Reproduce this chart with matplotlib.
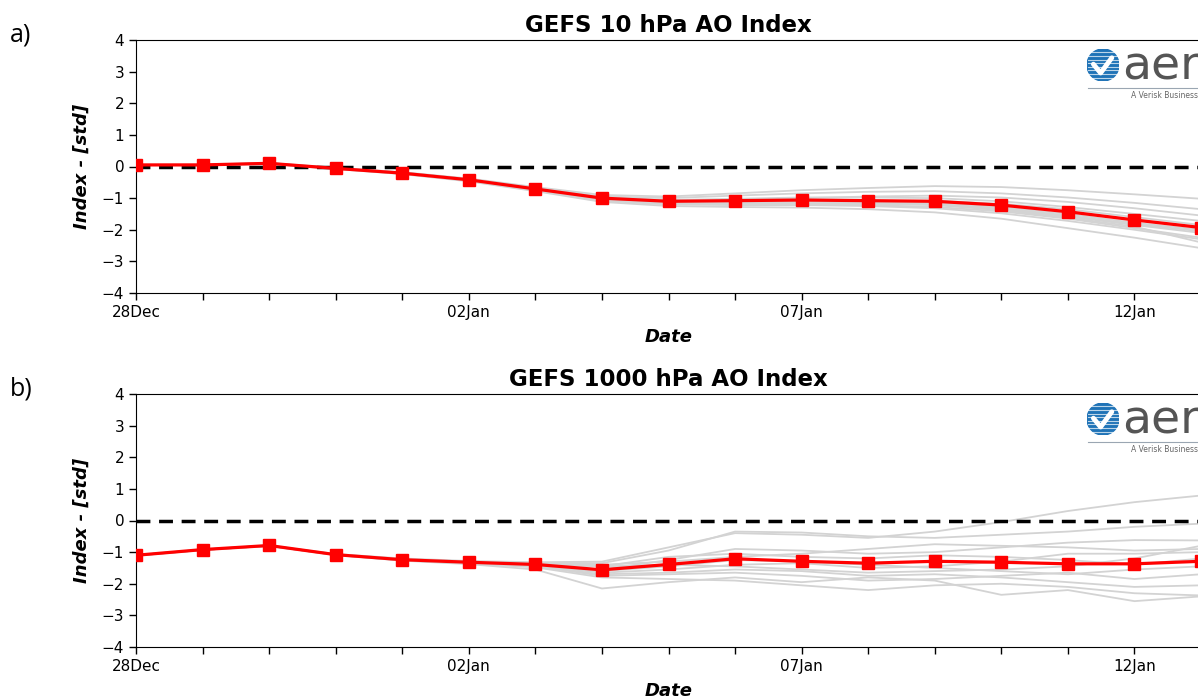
import numpy as np
import pandas as pd
import matplotlib
matplotlib.use('Agg')
import matplotlib.pyplot as plt
import matplotlib.dates as mdates
from matplotlib.patches import Circle

plt.rcParams['font.family'] = ['DejaVu Sans']

dates = pd.date_range('2021-12-28', periods=17, freq='D')

# ensemble mean (red)
mean_10 = [0.05, 0.05, 0.10, -0.06, -0.21, -0.42, -0.71, -1.00, -1.10, -1.08,
           -1.06, -1.08, -1.10, -1.22, -1.43, -1.69, -1.93]
mean_1000 = [-1.10, -0.92, -0.79, -1.08, -1.24, -1.32, -1.39, -1.56, -1.39, -1.21,
             -1.29, -1.35, -1.29, -1.32, -1.37, -1.37, -1.29]

# ensemble members (grey)
members_10 = [
    [0.05, 0.06, 0.11, -0.04, -0.18, -0.38, -0.65, -0.90, -0.95, -0.85, -0.75, -0.68, -0.62, -0.65, -0.75, -0.88, -1.02],
    [0.05, 0.05, 0.10, -0.05, -0.20, -0.40, -0.68, -0.95, -1.00, -0.92, -0.85, -0.80, -0.78, -0.85, -0.98, -1.15, -1.35],
    [0.05, 0.05, 0.09, -0.07, -0.22, -0.44, -0.74, -1.05, -1.15, -1.15, -1.12, -1.10, -1.08, -1.18, -1.35, -1.60, -1.85],
    [0.05, 0.04, 0.09, -0.07, -0.23, -0.45, -0.76, -1.08, -1.20, -1.22, -1.22, -1.25, -1.32, -1.48, -1.72, -2.00, -2.30],
    [0.05, 0.05, 0.10, -0.06, -0.21, -0.43, -0.73, -1.03, -1.13, -1.12, -1.10, -1.15, -1.20, -1.35, -1.58, -1.85, -2.10],
    [0.05, 0.04, 0.08, -0.08, -0.24, -0.47, -0.78, -1.12, -1.25, -1.28, -1.30, -1.35, -1.45, -1.65, -1.95, -2.25, -2.58],
    [0.05, 0.05, 0.10, -0.05, -0.19, -0.40, -0.69, -0.98, -1.06, -1.02, -0.98, -0.98, -1.00, -1.10, -1.28, -1.50, -1.72],
    [0.05, 0.05, 0.10, -0.06, -0.21, -0.42, -0.72, -1.02, -1.12, -1.10, -1.08, -1.12, -1.18, -1.32, -1.55, -1.82, -2.05],
    [0.05, 0.05, 0.11, -0.05, -0.20, -0.41, -0.70, -0.99, -1.08, -1.05, -1.00, -0.95, -0.92, -0.98, -1.12, -1.32, -1.55],
    [0.05, 0.04, 0.09, -0.07, -0.22, -0.44, -0.75, -1.06, -1.18, -1.18, -1.18, -1.22, -1.28, -1.42, -1.65, -1.95, -2.25],
    [0.05, 0.05, 0.10, -0.06, -0.21, -0.43, -0.72, -1.01, -1.10, -1.09, -1.08, -1.10, -1.14, -1.28, -1.50, -1.78, -2.00],
    [0.05, 0.05, 0.10, -0.06, -0.22, -0.43, -0.73, -1.04, -1.15, -1.16, -1.16, -1.18, -1.22, -1.38, -1.62, -1.90, -2.40],
]
members_1000 = [
    [-1.10, -0.92, -0.80, -1.06, -1.20, -1.28, -1.32, -1.30, -0.85, -0.40, -0.45, -0.55, -0.35, -0.05, 0.30, 0.58, 0.79],
    [-1.10, -0.92, -0.79, -1.07, -1.22, -1.30, -1.34, -1.35, -0.95, -0.35, -0.38, -0.50, -0.55, -0.45, -0.35, -0.20, -0.10],
    [-1.11, -0.93, -0.80, -1.09, -1.26, -1.36, -1.48, -1.80, -1.85, -1.90, -2.05, -2.20, -2.05, -2.00, -2.10, -2.30, -2.37],
    [-1.11, -0.93, -0.80, -1.09, -1.27, -1.38, -1.55, -2.15, -1.95, -1.80, -1.95, -1.80, -1.90, -2.35, -2.20, -2.55, -2.40],
    [-1.10, -0.93, -0.80, -1.08, -1.24, -1.33, -1.40, -1.55, -1.25, -0.90, -0.95, -1.05, -1.00, -0.85, -0.70, -0.62, -0.63],
    [-1.10, -0.92, -0.79, -1.08, -1.24, -1.31, -1.37, -1.45, -1.40, -1.45, -1.55, -1.65, -1.60, -1.55, -1.45, -1.20, -0.80],
    [-1.11, -0.93, -0.80, -1.09, -1.25, -1.34, -1.45, -1.70, -1.65, -1.55, -1.60, -1.75, -1.70, -1.80, -1.95, -2.10, -2.05],
    [-1.10, -0.92, -0.79, -1.08, -1.23, -1.31, -1.38, -1.45, -1.15, -1.05, -1.15, -1.20, -1.10, -1.15, -1.25, -1.40, -1.20],
    [-1.10, -0.92, -0.79, -1.08, -1.25, -1.34, -1.42, -1.65, -1.55, -1.40, -1.35, -1.50, -1.45, -1.30, -1.05, -1.05, -1.00],
    [-1.11, -0.93, -0.80, -1.09, -1.26, -1.35, -1.44, -1.75, -1.70, -1.65, -1.75, -1.90, -1.85, -1.75, -1.65, -1.85, -1.70],
    [-1.10, -0.92, -0.79, -1.08, -1.24, -1.33, -1.41, -1.60, -1.45, -1.25, -1.30, -1.40, -1.50, -1.60, -1.70, -1.55, -1.45],
    [-1.10, -0.93, -0.80, -1.08, -1.24, -1.32, -1.36, -1.40, -1.30, -1.15, -1.05, -0.90, -0.75, -0.80, -0.85, -0.95, -0.90],
]

titles = ['GEFS 10 hPa AO Index', 'GEFS 1000 hPa AO Index']
panel_labels = ['a)', 'b)']

fig = plt.figure(figsize=(11.98, 7.0), dpi=100)
W, H = 1198, 700


def fx(px):
    return px / W


def fy(py):
    return 1 - py / H


def draw_logo(top):
    # globe + "aer" + line + tagline, pixel positions from the top of the panel
    cx, cy, r = 1103, top + 25, 16
    ax_l = fig.add_axes([fx(cx - r), fy(cy + r), fx(2 * r), 2 * r / H])
    ax_l.set_xlim(-1, 1)
    ax_l.set_ylim(-1, 1)
    ax_l.axis('off')
    ax_l.add_patch(Circle((0, 0), 1, color='#1f73b7'))
    for yy in np.linspace(-0.8, 0.8, 8):
        ax_l.plot([-0.95, 0.95], [yy, yy], color='white', lw=0.8, alpha=0.7)
    ax_l.plot([-0.6, -0.15, 0.55], [0.05, -0.5, 0.45], color='white', lw=3.5,
              solid_capstyle='round')
    fig.text(fx(1122), fy(cy + 2), 'aer', fontsize=34, color='#555555',
             va='center', ha='left', family='DejaVu Sans')
    fig.add_artist(plt.Line2D([fx(1088), fx(1198)], [fy(top + 48), fy(top + 48)],
                              color='#9aa6b2', lw=0.8))
    fig.text(fx(1131), fy(top + 55), 'A Verisk Business', fontsize=5.5,
             color='#666666', va='center', ha='left')


tops = [40, 394]
for i, (mean, members) in enumerate([(mean_10, members_10), (mean_1000, members_1000)]):
    top = tops[i]
    ax = fig.add_axes([fx(136), fy(top + 253), fx(1201 - 136), 253 / H])
    for m in members:
        ax.plot(dates, m, color='#d3d3d3', lw=1.3, zorder=1)
    ax.axhline(0, color='black', lw=2.5, ls=(0, (4, 2.5)), zorder=2)
    ax.plot(dates, mean, color='#ff0000', lw=2.3, marker='s', ms=9,
            mec='#ff0000', zorder=3, clip_on=True)
    ax.set_xlim(dates[0], dates[-1])
    ax.set_ylim(-4, 4)
    ax.set_yticks(range(-4, 5))
    ax.xaxis.set_major_locator(mdates.DayLocator(bymonthday=[28, 2, 7, 12]))
    ax.xaxis.set_major_formatter(mdates.DateFormatter('%d%b'))
    ax.xaxis.set_minor_locator(mdates.DayLocator())
    ax.tick_params(axis='both', which='both', labelsize=11, length=5, width=1)
    ax.spines['right'].set_visible(False)
    ax.set_title(titles[i], fontsize=16.5, fontweight='bold', pad=6)
    ax.set_xlabel('Date', fontsize=13, fontweight='bold', style='italic', labelpad=6)
    ax.set_ylabel('Index - [std]', fontsize=13, fontweight='bold', style='italic',
                  labelpad=8)
    fig.text(fx(10), fy(top - 5), panel_labels[i], fontsize=18, va='center',
             ha='left', family='Open Sans')
    draw_logo(top)

plt.savefig('out.png', dpi=100)
